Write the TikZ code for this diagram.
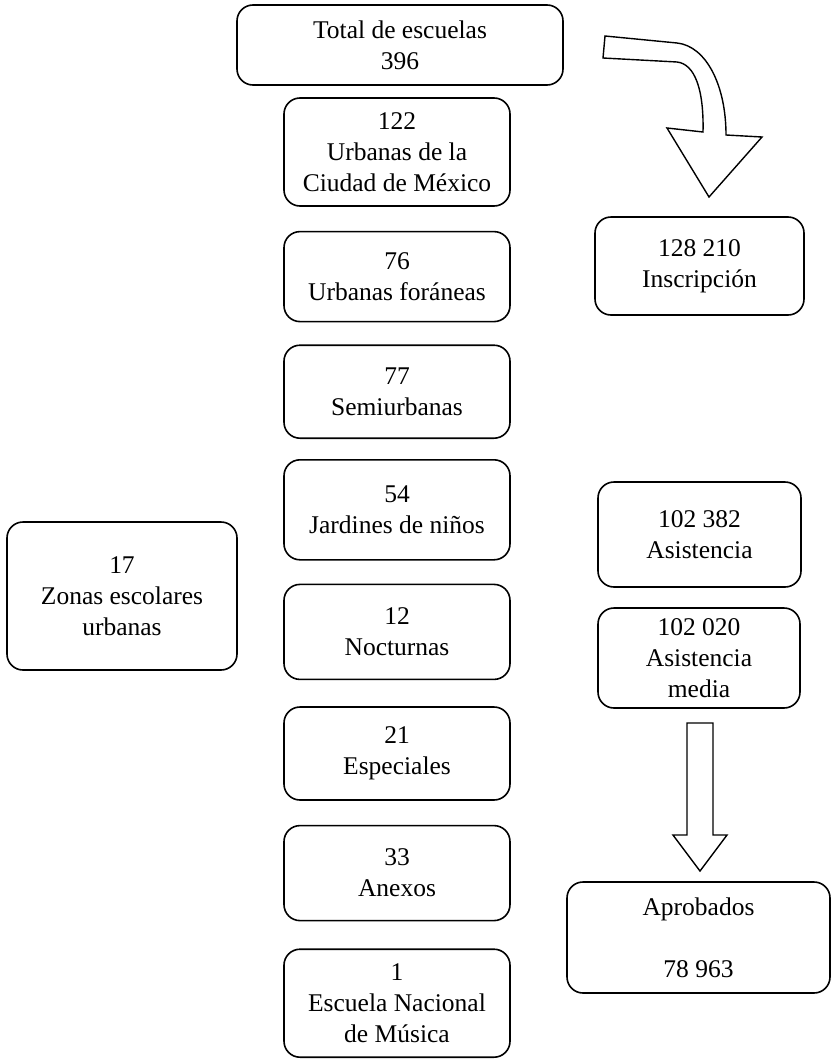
\documentclass[tikz,border=0pt]{standalone}
\usepackage{fontspec}
\setmainfont{Liberation Serif}
\usetikzlibrary{positioning}

\tikzset{
  cajita/.style={draw=black,line width=1.6pt,rounded corners=16pt,align=center,
    inner sep=0pt,minimum width=226pt},
  flecha/.style={draw=black,line width=1.4pt,line join=miter},
}

\begin{document}
\begin{tikzpicture}[x=1pt,y=-1pt,font=\fontsize{25.5}{31}\selectfont]
  \useasboundingbox (0,0) rectangle (832,1063);
  % columna central
  \node[cajita,minimum width=326pt,minimum height=80pt] (total) at (400,45) {Total de escuelas\\396};
  \node[cajita,minimum height=108pt] (urbmex) at (397,152) {122\\Urbanas de la\\Ciudad de México};
  \node[cajita,minimum height=90pt,below=24pt of urbmex] (foraneas) {76\\Urbanas foráneas};
  \node[cajita,minimum height=93pt,below=22pt of foraneas] (semi) {77\\Semiurbanas};
  \node[cajita,minimum height=100pt,below=20pt of semi] (jardines) {54\\Jardines de niños};
  \node[cajita,minimum height=95pt,below=23pt of jardines] (nocturnas) {12\\Nocturnas};
  \node[cajita,minimum height=93pt,below=26pt of nocturnas] (especiales) {21\\Especiales};
  \node[cajita,minimum height=95pt,below=24pt of especiales] (anexos) {33\\Anexos};
  \node[cajita,minimum height=108pt,below=27pt of anexos] (musica) {1\\Escuela Nacional\\de Música};
  % izquierda
  \node[cajita,minimum width=230pt,minimum height=148pt] (zonas) at (122,596) {17\\Zonas escolares\\urbanas};
  % derecha
  \node[cajita,minimum width=209pt,minimum height=98pt] (inscripcion) at (699.5,266) {128 210\\Inscripción};
  \node[cajita,minimum width=203pt,minimum height=105pt] (asistencia) at (699.5,534.5) {102 382\\Asistencia};
  \node[cajita,minimum width=202pt,minimum height=100pt] (media) at (699,658) {102 020\\Asistencia\\media};
  \node[cajita,minimum width=263pt,minimum height=111pt] (aprobados) at (698.5,937.5) {Aprobados\\\mbox{}\\78 963};
  % flechas de bloque
  \draw[flecha] (605,36) -- (677,43) .. controls (706,46) and (726,85) .. (726,135)
    -- (762,137) -- (709,197) -- (667,128) -- (703,132)
    .. controls (704,90) and (695,64) .. (677,62) -- (603,58) -- cycle;
  \draw[flecha] (687,723) -- (713,723) -- (713,835) -- (727,835) -- (700,871)
    -- (673,835) -- (687,835) -- cycle;
\end{tikzpicture}
\end{document}
